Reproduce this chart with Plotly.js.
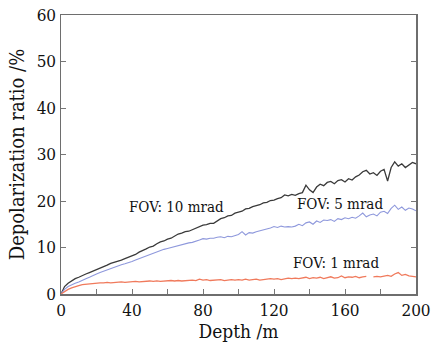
<!DOCTYPE html>
<html>
<head>
<meta charset="utf-8">
<script src="https://cdn.plot.ly/plotly-3.0.1.min.js"></script>
<style>html,body{margin:0;padding:0;background:#fff;}#chart{width:437px;height:342px;}</style>
</head>
<body>
<div id="chart"></div>
<script>
const depth = [0,2,4,6,8,10,12,14,16,18,20,22,24,26,28,30,32,34,36,38,40,42,44,46,48,50,52,54,56,58,60,62,64,66,68,70,72,74,76,78,80,82,84,86,88,90,92,94,96,98,100,102,104,106,108,110,112,114,116,118,120,122,124,126,128,130,132,134,136,138,140,142,144,146,148,150,152,154,156,158,160,162,164,166,168,170,172,174,176,178,180,182,184,186,188,190,192,194,196,198,200];

const fov10 = [0,1.6,2.3,2.9,3.3,3.6,4.0,4.3,4.6,4.9,5.2,5.5,5.9,6.2,6.6,6.8,7.1,7.3,7.6,7.9,8.3,8.5,9.0,9.3,9.7,10.1,10.3,10.8,11.2,11.4,11.8,12.0,12.4,12.9,13.1,13.4,13.5,13.8,14.2,14.4,14.8,14.9,15.2,15.2,15.8,16.2,16.4,16.8,16.9,17.4,17.6,17.8,18.3,18.4,18.8,19.0,19.2,19.6,19.7,20.1,20.2,20.5,20.7,21.3,21.1,21.4,21.2,21.6,21.8,23.4,22.4,21.8,23.0,23.6,23.3,24.0,24.2,23.7,24.4,24.6,24.1,24.8,24.5,25.2,25.6,26.3,26.6,25.8,26.1,25.5,26.4,26.8,24.3,27.2,28.4,27.5,28.0,27.2,27.8,28.3,28.0];

const fov5 = [0,1.0,1.6,2.0,2.3,2.6,3.0,3.3,3.6,4.0,4.3,4.6,4.9,5.2,5.5,5.8,6.0,6.3,6.5,6.7,7.0,7.3,7.6,7.9,8.2,8.5,8.8,9.1,9.4,9.6,9.8,10.0,10.2,10.5,10.7,10.9,11.0,11.1,11.3,11.6,11.9,11.8,12.0,12.0,12.2,12.3,12.1,12.4,12.3,12.6,12.8,13.4,12.7,13.2,13.1,13.4,13.6,13.7,13.9,14.2,14.5,14.3,14.6,14.4,14.5,14.4,14.6,15.0,14.7,15.3,15.5,15.0,15.7,15.4,15.9,15.8,16.0,15.6,16.2,16.0,16.4,16.2,16.5,16.3,16.8,17.4,16.6,17.0,17.2,16.8,17.6,17.8,17.3,18.4,19.1,18.2,18.7,18.0,18.5,18.3,17.9];

const fov1 = [0,0.6,1.0,1.3,1.6,1.8,2.0,2.1,2.2,2.3,2.3,2.4,2.4,2.5,2.4,2.5,2.5,2.6,2.5,2.6,2.6,2.7,2.6,2.7,2.7,2.8,2.7,2.8,2.7,2.8,2.8,2.9,2.8,2.9,2.8,2.9,2.9,3.0,2.9,3.2,3.0,3.1,2.9,3.0,3.0,3.1,2.9,3.0,3.1,3.0,3.1,3.0,3.2,3.0,3.1,3.2,3.0,3.1,3.2,3.3,3.2,3.3,3.1,3.3,3.4,3.3,3.4,3.3,3.5,3.6,3.3,3.5,3.4,3.6,3.3,3.5,3.7,3.4,3.5,3.9,3.5,3.7,3.6,3.8,3.5,3.7,3.8,null,3.7,3.8,3.7,3.9,4.0,3.8,4.3,4.6,4.0,4.2,3.9,3.8,3.7];

const labels = ["FOV: 10 mrad","FOV: 5 mrad","FOV: 1 mrad"];
const labelX = [65, 157, 155];
const labelY = [18.7, 19.4, 6.7];

const serif = '"DejaVu Serif Condensed", "DejaVu Serif", serif';

const traces = [
  {x: depth, y: fov10, mode:'lines', line:{color:'#3a3a3a', width:1.3}, connectgaps:false},
  {x: depth, y: fov5, mode:'lines', line:{color:'#8e98dc', width:1.1}, connectgaps:false},
  {x: depth, y: fov1, mode:'lines', line:{color:'#f07a5c', width:1.3}, connectgaps:false}
];

const layout = {
  width:437, height:342,
  margin:{l:61, r:21, t:15, b:48},
  showlegend:false,
  paper_bgcolor:'#fff', plot_bgcolor:'#fff',
  font:{family:serif, color:'#111'},
  xaxis:{
    range:[0,200], dtick:40, tick0:0, ticks:'inside', ticklen:5, tickcolor:'#777',
    minor:{dtick:20, ticks:'inside', ticklen:5, tickcolor:'#777'},
    showline:true, linecolor:'#6e6e6e', linewidth:1.5, mirror:true,
    showgrid:false, zeroline:false,
    tickfont:{family:serif, size:17, color:'#111'},
    title:{text:'Depth /m', font:{family:serif, size:19, color:'#111'}, standoff:1}
  },
  yaxis:{
    range:[0,60], dtick:10, ticks:'inside', ticklen:5, tickcolor:'#777',
    showline:true, linecolor:'#6e6e6e', linewidth:1.5, mirror:'ticks',
    showgrid:false, zeroline:false,
    tickfont:{family:serif, size:17, color:'#111'},
    title:{text:'Depolarization ratio /%', font:{family:serif, size:20, color:'#111'}, standoff:6}
  },
  annotations: labels.map((t,i)=>({x:labelX[i], y:labelY[i], text:t, showarrow:false, xref:'x', yref:'y',
    font:{family:serif, size:15, color:'#111'}}))
};

Plotly.newPlot('chart', traces, layout, {displayModeBar:false, staticPlot:true});
</script>
</body>
</html>
